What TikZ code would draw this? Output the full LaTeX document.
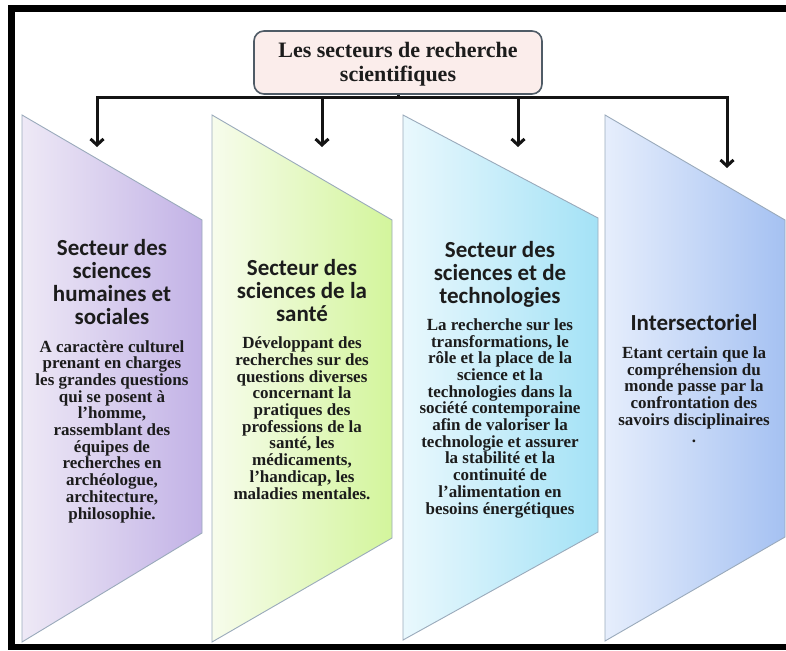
\documentclass[tikz,border=0pt]{standalone}
\usepackage{fontspec}
\setmainfont{Liberation Serif}
\newfontfamily\headfont{Carlito}
\usetikzlibrary{arrows.meta}
\definecolor{edgec}{HTML}{9AAABB}
\definecolor{txtc}{HTML}{1C1C1C}
\definecolor{titlefill}{HTML}{FBEDEB}
\definecolor{titleedge}{HTML}{4F5B66}
\definecolor{aL}{HTML}{EEE9F6}\definecolor{aR}{HTML}{C2B2E6}
\definecolor{bL}{HTML}{F7FCEC}\definecolor{bR}{HTML}{D3F59C}
\definecolor{cL}{HTML}{E9F8FD}\definecolor{cR}{HTML}{A4E2F6}
\definecolor{dL}{HTML}{E6EEFC}\definecolor{dR}{HTML}{A5C1F2}
\begin{document}
\begin{tikzpicture}[x=1pt,y=-1pt,
  sector/.style={draw=edgec, line width=0.9pt},
  headtxt/.style={align=center, inner sep=0pt, anchor=base, text=txtc,
    font=\headfont\bfseries\fontsize{23pt}{23pt}\selectfont},
  bodytxt/.style={align=center, inner sep=0pt, anchor=base, text=txtc,
    font=\bfseries\fontsize{17pt}{16.7pt}\selectfont},
  titlebox/.style={draw=titleedge, fill=titlefill, line width=1.6pt, rounded corners=10pt,
    minimum width=288pt, minimum height=63pt, inner sep=0pt},
  titletxt/.style={align=center, inner sep=0pt, anchor=base, text=txtc,
    font=\bfseries\fontsize{22pt}{24pt}\selectfont},
  conn/.style={line width=3pt, draw=black!92},
  arr/.style={conn, -{Straight Barb[length=6pt,width=13pt]}},
]
\useasboundingbox (0,0) rectangle (786,650);
\fill[white] (0,0) rectangle (786,650);

% sectors
\draw[sector, left color=aL, right color=aR] (22,115) -- (202,220) -- (202,533) -- (22,642) -- cycle;
\draw[sector, left color=bL, right color=bR] (212,115) -- (392,220) -- (392,538) -- (212,642) -- cycle;
\draw[sector, left color=cL, right color=cR] (403,115) -- (598,218) -- (598,532) -- (403,640) -- cycle;
\draw[sector, left color=dL, right color=dR] (605,115) -- (785,220) -- (785,537) -- (605,641) -- cycle;

% title
\node[titlebox] (title) at (398,62.5) {};
\node[titletxt] (titletext) at (398,82) {Les secteurs de recherche\\scientifiques};

% connectors
\coordinate (bus) at (398,98);
\coordinate (t1) at (97,147);
\coordinate (t2) at (322,147);
\coordinate (t3) at (518,147);
\coordinate (t4) at (727,168);
\draw[conn] (title.south) -- (bus);
\draw[arr] (bus) -| (t1);
\draw[arr] (bus) -| (t4);
\draw[arr] (t2|-bus) -- (t2);
\draw[arr] (t3|-bus) -- (t3);

% texts (base anchor = baseline of the last line)
\node[headtxt] (h1) at (112,324) {Secteur des\\sciences\\humaines et\\sociales};
\node[bodytxt] (b1) at (112,519) {A caractère culturel\\prenant en charges\\les grandes questions\\qui se posent à\\l’homme,\\rassemblant des\\équipes de\\recherches en\\archéologue,\\architecture,\\philosophie.};

\node[headtxt] (h2) at (302,321) {Secteur des\\sciences de la\\santé};
\node[bodytxt] (b2) at (302,499) {Développant des\\recherches sur des\\questions diverses\\concernant la\\pratiques des\\professions de la\\santé, les\\médicaments,\\l’handicap, les\\maladies mentales.};

\node[headtxt] (h3) at (500,303) {Secteur des\\sciences et de\\technologies};
\node[bodytxt] (b3) at (500,514) {La recherche sur les\\transformations, le\\rôle et la place de la\\science et la\\technologies dans la\\société contemporaine\\afin de valoriser la\\technologie et assurer\\la stabilité et la\\continuité de\\l’alimentation en\\besoins énergétiques};

\node[headtxt] (h4) at (694,330) {Intersectoriel};
\node[bodytxt] (b4) at (694,442) {Etant certain que la\\compréhension du\\monde passe par la\\confrontation des\\savoirs disciplinaires\\.};

% frame
\draw[line width=6.5pt, black] (790,8.5) -- (11.5,8.5) -- (11.5,647) -- (790,647);
\end{tikzpicture}
\end{document}
